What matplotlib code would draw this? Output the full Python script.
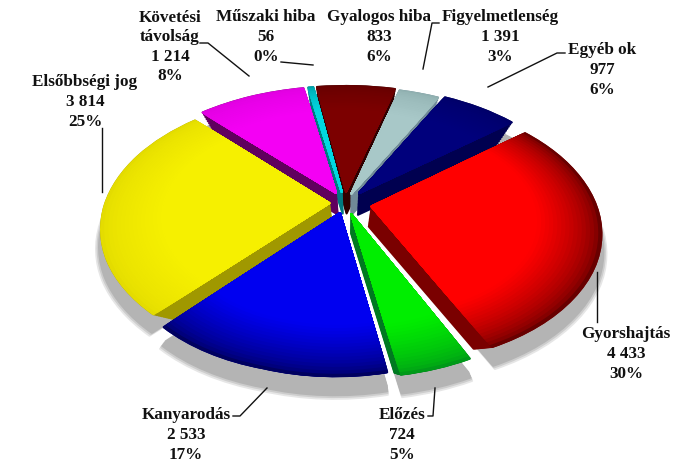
import numpy as np
import matplotlib
matplotlib.use('Agg')
import matplotlib.pyplot as plt
from matplotlib.transforms import Transform

# szeletek, a kep sorrendjeben (oramutato jarasaval)
nevek = ['Gyorshajtás', 'Előzés', 'Kanyarodás', 'Elsőbbségi jog', 'Követési\ntávolság',
         'Műszaki hiba', 'Gyalogos hiba', 'Figyelmetlenség', 'Egyéb ok']
ertekek = [4433, 724, 2533, 3814, 1214, 56, 833, 391, 977]   # a Figyelmetlenség szelet 3%-os
felirat_ertek = ['4 433', '724', '2 533', '3 814', '1 214', '56', '833', '1 391', '977']
felirat_szazalek = ['30%', '5%', '17%', '25%', '8%', '0%', '6%', '3%', '6%']
szinek = ['#ff0000', '#00ee00', '#0000f0', '#f6f000', '#f400f4', '#00d8e0', '#7c0000', '#a8c8c8', '#00007c']
peremek = ['#680000', '#009a18', '#000060', '#e4dc00', '#e000e0', '#00a0a8', '#640000', '#90b0b0', '#000068']
oldalak = ['#7a0000', '#007a20', '#000080', '#a09800', '#60005e', '#007a80', '#300000', '#708a98', '#000050']
robbantas = [0.12, 0.09, 0.08, 0.07, 0.09, 0.09, 0.09, 0.08, 0.10]

felirat_x = [626, 402, 186, 85, 170, 266, 379, 500, 602]
felirat_y = [354, 435, 435, 102, 47, 37, 37, 37, 70]

vonalak = [[(597, 272), (597, 322)],
           [(428, 416), (433, 416), (435, 388)],
           [(233, 416), (240, 416), (267, 388)],
           [(102, 128), (102, 192)],
           [(200, 43), (208, 43), (249, 76)],
           [(281, 62), (313, 65)],
           [(439, 23), (432, 23), (423, 69)],
           [(565, 53), (557, 53), (488, 87)]]

KEZDO_SZOG = 42
# a kep perspektivaja a szogeket is torzitja: szog -> eltolas (fok)
torz_szog = [-235, -143, -82, -65, 42, 65, 75, 95, 125, 217]
torz_elt = [8, 11, 2, 0, -3, -3, 0, 4, 8, 11]


class Perspektiva(Transform):
    # egysegkor -> kep pixelek, a kozeli resz nagyobb
    input_dims = 2
    output_dims = 2
    is_separable = False
    has_inverse = False

    def __init__(self, s=1.0, dx=0.0, dy=0.0):
        super().__init__()
        self.s = s
        self.dx = dx
        self.dy = dy

    def transform_non_affine(self, xy):
        xy = np.asarray(xy)
        r = np.hypot(xy[:, 0], xy[:, 1])
        fi = np.degrees(np.arctan2(xy[:, 1], xy[:, 0]))
        fi = fi + np.interp(fi, torz_szog, torz_elt)
        x = r * np.cos(np.radians(fi))
        y = r * np.sin(np.radians(fi))
        w = 1 + 0.185 * y
        px = 226 * x / w
        py = -130 * y / w
        # also lap: kisebbites a (350, 245) pont fele
        X = 350 + (px - 5) * self.s + self.dx
        Y = 245 + (py - 42) * self.s + self.dy
        return np.column_stack([X, Y])


def keverd(c1, c2, t):
    a = np.array(matplotlib.colors.to_rgb(c1))
    b = np.array(matplotlib.colors.to_rgb(c2))
    return tuple(a + (b - a) * t)


fig = plt.figure(figsize=(7, 4.67), dpi=100)
ax = fig.add_axes([0, 0, 1, 1])


def retegek(radius, colors, trans, zorder):
    wedges, _ = ax.pie(ertekek, explode=robbantas, radius=radius, colors=colors,
                       startangle=KEZDO_SZOG, counterclock=False)
    for w in wedges:
        w.set_transform(trans + ax.transData)
        w.set_zorder(zorder)
        w.set_edgecolor(w.get_facecolor())
        w.set_linewidth(1.5)
        w.set_joinstyle('round')


# arnyek
for i in range(6):
    retegek(0.99, [keverd('#ffffff', '#b4b4b4', min(1, (i + 1) / 3))] * len(ertekek),
            Perspektiva(1.02 - i * 0.006, 0, 20 - i), 1 + i * 0.01)

# oldalfal
n = 16
for i in range(n):
    t = i / (n - 1)
    retegek(0.99, oldalak, Perspektiva(0.87 + 0.13 * t, 0, 15 * (1 - t)), 2 + i * 0.01)

# teteje, a perem fele sotetedik
n = 22
for i in range(n):
    t = i / (n - 1)
    r = 0.99 - 0.36 * t
    kevert = [keverd(p, c, min(1, t ** 0.6 * 1.2)) for p, c in zip(peremek, szinek)]
    retegek(r, kevert, Perspektiva(), 3 + i * 0.01)

ax.set_aspect('auto')
ax.set_xlim(0, 700)
ax.set_ylim(467, 0)
ax.axis('off')

for nev, ert, sz, x, y in zip(nevek, felirat_ertek, felirat_szazalek, felirat_x, felirat_y):
    ax.text(x, y, nev + '\n' + ert + '\n' + sz, ha='center', va='center', color='#111111',
            family='Liberation Serif', weight='bold', fontsize=12.3, linespacing=1.3, zorder=10)

for v in vonalak:
    xs = [p[0] for p in v]
    ys = [p[1] for p in v]
    ax.plot(xs, ys, color='#111111', lw=1.0, zorder=10)

fig.savefig('out.png', dpi=100)
